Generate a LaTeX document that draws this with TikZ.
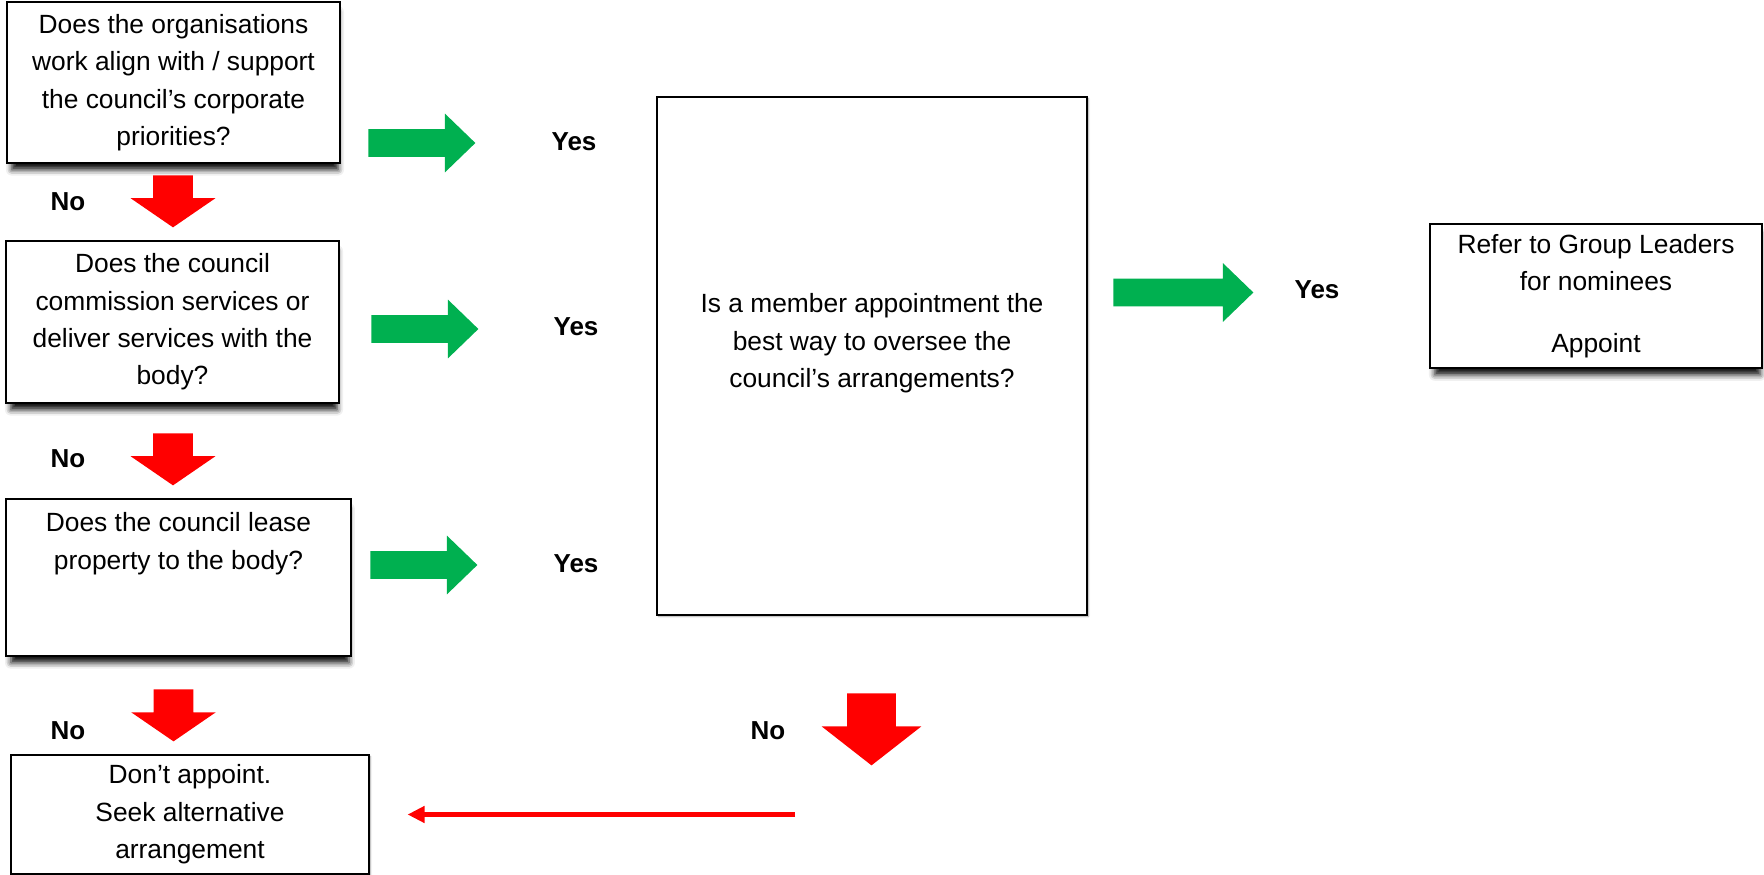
\documentclass[tikz,border=0pt]{standalone}
\usepackage{fontspec}
\setmainfont{Liberation Sans}
\usepackage{tikz}
\usetikzlibrary{shapes.arrows,shadows.blur,arrows.meta}
\definecolor{yesgreen}{HTML}{00B050}
\definecolor{nored}{HTML}{FF0000}
\newcommand{\boxfont}{\fontsize{15}{21.3}\selectfont}
\newcommand{\labfont}{\fontsize{14.8}{17}\selectfont\bfseries}

\begin{document}
\begin{tikzpicture}[
  qbox/.style={draw, line width=0.6pt, fill=white, align=center, font=\boxfont, inner sep=0pt},
  soft/.style={blur shadow={shadow xshift=0.03cm, shadow yshift=-0.17cm, shadow scale=0.98, shadow blur radius=0.12cm, shadow opacity=95}},
  faint/.style={blur shadow={shadow xshift=0.03cm, shadow yshift=-0.03cm, shadow blur radius=0.03cm, shadow opacity=35}},
  yesarrow/.style={single arrow, fill=yesgreen, anchor=tail, inner xsep=0pt, inner ysep=0.27cm, single arrow head extend=0.31cm, single arrow tip angle=88, minimum height=2.14cm},
  noarrow/.style={single arrow, fill=nored, rotate=-90, anchor=tail, inner xsep=0pt, inner ysep=0.39cm, single arrow head extend=0.45cm, single arrow tip angle=111, minimum height=1.04cm},
  lab/.style={font=\labfont},
  back/.style={draw=nored, line width=0.1cm, -{Triangle[length=0.34cm,width=0.32cm]}, shorten >=0.76cm}
]
\useasboundingbox (0,0) rectangle (35.28,-17.5);

% question boxes
\node[qbox, soft, minimum width=6.66cm, minimum height=3.22cm] (Q1) at (3.47,-1.65) {Does the organisations\\work align with / support\\the council’s corporate\\priorities?};
\node[qbox, soft, minimum width=6.66cm, minimum height=3.24cm] (Q2) at (3.45,-6.44) {Does the council\\commission services or\\deliver services with the\\body?};
\node[qbox, soft, minimum width=6.9cm, minimum height=3.14cm] (Q3) at (3.57,-11.55) {\parbox[c][2.6cm][t]{6.6cm}{\centering Does the council lease\\property to the body?}};
\node[qbox, faint, minimum width=8.6cm, minimum height=10.36cm] (Q4) at (17.44,-7.12) {\parbox[c][10cm][c]{8.4cm}{\centering Is a member appointment the\\best way to oversee the\\council’s arrangements?\par\vspace{0.5cm}}};
\node[qbox, soft, minimum width=6.64cm, minimum height=2.88cm] (R1) at (31.92,-5.92) {Refer to Group Leaders\\for nominees\\[0.48cm]Appoint};
\node[qbox, faint, minimum width=7.16cm, minimum height=2.38cm] (S1) at (3.80,-16.29) {Don’t appoint.\\Seek alternative\\arrangement};

% yes arrows
\node[yesarrow] (G1) at (7.36,-2.86) {};
\node[yesarrow] (G2) at (7.42,-6.58) {};
\node[yesarrow] (G3) at (7.40,-11.30) {};
\node[yesarrow, minimum height=2.8cm] (G4) at (22.26,-5.85) {};
\node[lab] (Y1) at (11.48,-2.84) {Yes};
\node[lab] (Y2) at (11.52,-6.54) {Yes};
\node[lab] (Y3) at (11.52,-11.28) {Yes};
\node[lab] (Y4) at (26.34,-5.80) {Yes};

% no arrows
\node[noarrow] (N1) at (3.46,-3.50) {};
\node[noarrow] (N2) at (3.46,-8.66) {};
\node[noarrow] (N3) at (3.47,-13.78) {};
\node[noarrow, inner ysep=0.48cm, single arrow head extend=0.51cm, single arrow tip angle=104, minimum height=1.44cm] (N4) at (17.43,-13.86) {};
\node[lab] (L1) at (1.36,-4.04) {No};
\node[lab] (L2) at (1.36,-9.18) {No};
\node[lab] (L3) at (1.36,-14.62) {No};
\node[lab] (L4) at (15.36,-14.62) {No};

\coordinate (B0) at (15.9,-16.29);
\draw[back] (B0) -- (S1);

\end{tikzpicture}
\end{document}
